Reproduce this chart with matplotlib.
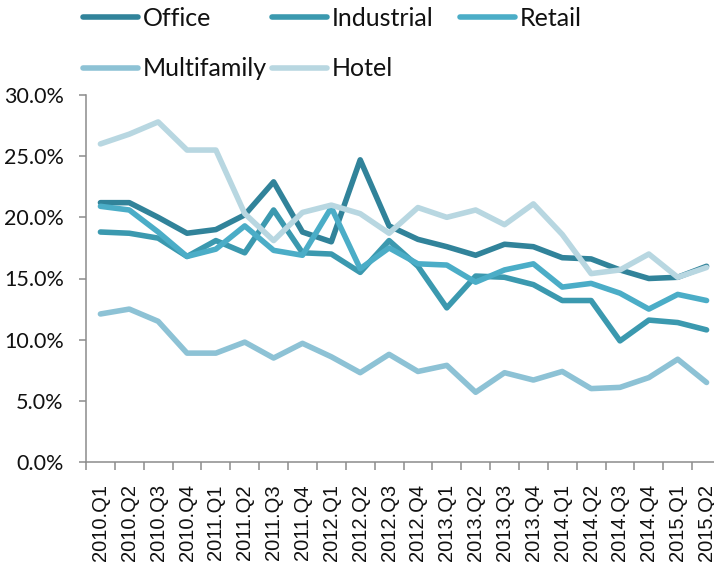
import matplotlib
matplotlib.use("Agg")
import matplotlib.pyplot as plt
from matplotlib.lines import Line2D
from matplotlib.ticker import FixedLocator, FuncFormatter

# Quarterly rates (%) by property type
quarters = [
    "2010.Q1", "2010.Q2", "2010.Q3", "2010.Q4",
    "2011.Q1", "2011.Q2", "2011.Q3", "2011.Q4",
    "2012.Q1", "2012.Q2", "2012.Q3", "2012.Q4",
    "2013.Q1", "2013.Q2", "2013.Q3", "2013.Q4",
    "2014.Q1", "2014.Q2", "2014.Q3", "2014.Q4",
    "2015.Q1", "2015.Q2",
]
office = [21.2, 21.2, 20.0, 18.7, 19.0, 20.2, 22.9, 18.8, 18.0, 24.7, 19.3,
          18.2, 17.6, 16.9, 17.8, 17.6, 16.7, 16.6, 15.7, 15.0, 15.1, 16.0]
industrial = [18.8, 18.7, 18.3, 16.8, 18.1, 17.1, 20.6, 17.1, 17.0, 15.5, 18.1,
              16.0, 12.6, 15.2, 15.1, 14.5, 13.2, 13.2, 9.9, 11.6, 11.4, 10.8]
retail = [20.9, 20.6, 18.8, 16.8, 17.4, 19.3, 17.3, 16.9, 20.8, 15.8, 17.5,
          16.2, 16.1, 14.7, 15.7, 16.2, 14.3, 14.6, 13.8, 12.5, 13.7, 13.2]
multifamily = [12.1, 12.5, 11.5, 8.9, 8.9, 9.8, 8.5, 9.7, 8.6, 7.3, 8.8,
               7.4, 7.9, 5.7, 7.3, 6.7, 7.4, 6.0, 6.1, 6.9, 8.4, 6.5]
hotel = [26.0, 26.8, 27.8, 25.5, 25.5, 20.3, 18.1, 20.4, 21.0, 20.3, 18.7,
         20.8, 20.0, 20.6, 19.4, 21.1, 18.6, 15.4, 15.7, 17.0, 15.1, 15.9]

series_names = ["Office", "Industrial", "Retail", "Multifamily", "Hotel"]
series_values = [office, industrial, retail, multifamily, hotel]
series_colors = ["#31839A", "#3B99AF", "#4BADC7", "#8DC2D5", "#B8D7E1"]

LABEL_FONT = "Lato"
TICK_FONT = "Liberation Sans"
AXIS_GRAY = "#8C8C8C"
LW = 4.0

fig = plt.figure(figsize=(7.14, 5.65), dpi=100)
W, H = 714, 565
left, right, top, bottom = 86, 721, 95, 462
ax = fig.add_axes([left / W, 1 - bottom / H, (right - left) / W, (bottom - top) / H])

x = list(range(len(quarters)))
handles = {}
for name, vals, col in zip(series_names, series_values, series_colors):
    (ln,) = ax.plot(x, vals, color=col, lw=LW, solid_joinstyle="round",
                    solid_capstyle="round", label=name)
    handles[name] = ln

ax.set_xlim(-0.5, len(quarters) - 0.5)
ax.set_ylim(0, 30)

# y axis
ax.yaxis.set_major_locator(FixedLocator([0, 5, 10, 15, 20, 25, 30]))
ax.yaxis.set_major_formatter(FuncFormatter(lambda v, p: f"{v:.1f}%"))
ax.tick_params(axis="y", which="major", length=5, width=1.1, color=AXIS_GRAY,
               pad=11, labelsize=15.5)
for t in ax.get_yticklabels():
    t.set_fontfamily(LABEL_FONT)
    t.set_color("#111111")

# x axis: labels at category centres, tick marks between categories
ax.set_xticks(x)
ax.set_xticklabels(quarters, rotation=90, fontfamily=TICK_FONT, fontsize=14.5,
                   color="#111111")
ax.set_xticks([i - 0.5 for i in range(len(quarters) + 1)], minor=True)
ax.tick_params(axis="x", which="major", length=0, pad=16)
ax.tick_params(axis="x", which="minor", length=5.5, width=1.1, color=AXIS_GRAY)

for s in ("top", "right"):
    ax.spines[s].set_visible(False)
for s in ("left", "bottom"):
    ax.spines[s].set_color(AXIS_GRAY)
    ax.spines[s].set_linewidth(1.1)

# legend laid out in three fixed-width columns
legend_columns = [["Office", "Multifamily"], ["Industrial", "Hotel"], ["Retail"]]
column_x = [83, 272, 460]
for names, cx in zip(legend_columns, column_x):
    hs = [Line2D([], [], color=handles[n].get_color(), lw=LW, solid_capstyle="round")
          for n in names]
    leg = fig.legend(hs, names, loc="upper left",
                     bbox_to_anchor=(cx / W, 1 - 7 / H),
                     frameon=False, borderpad=0, borderaxespad=0,
                     handlelength=2.2, handletextpad=0.2, labelspacing=1.1,
                     prop={"family": LABEL_FONT, "size": 18})
    for t in leg.get_texts():
        t.set_color("#111111")

fig.savefig("out.png", dpi=100)
